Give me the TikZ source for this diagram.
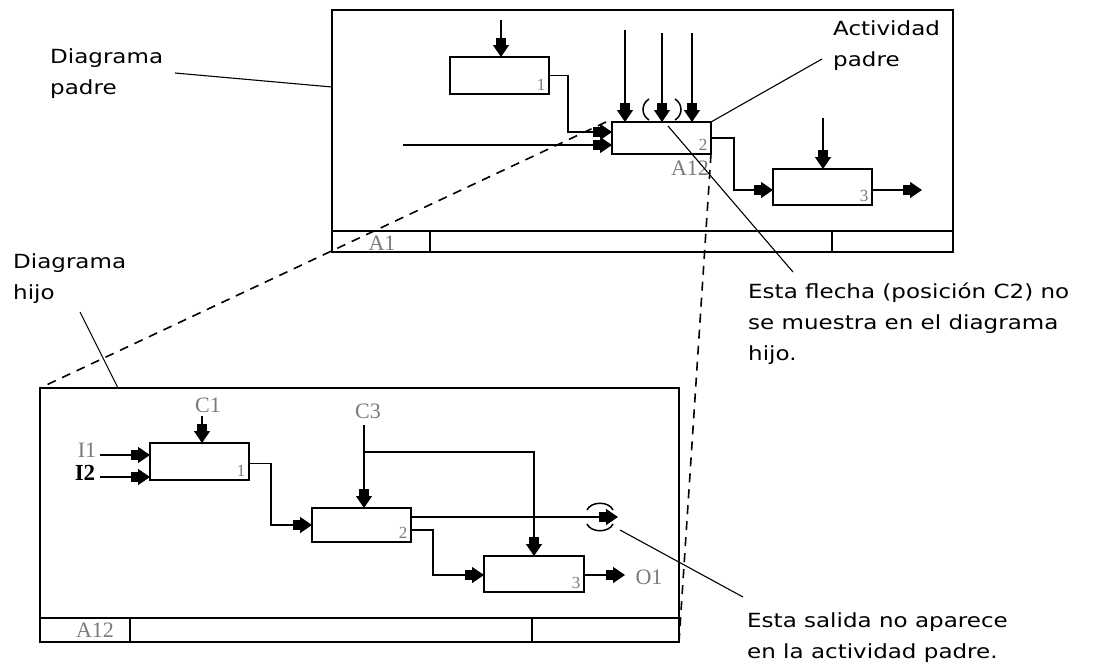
\documentclass[tikz,border=0pt]{standalone}
\usepackage{fontspec}
\usepackage{tikz}
\usetikzlibrary{arrows.meta,positioning,calc}
\newfontfamily\notefont[FakeStretch=1.18]{DejaVu Sans}
\newfontfamily\labfont{Liberation Serif}
\definecolor{lblgray}{HTML}{7A7A7A}
\tikzset{
  frm/.style={draw, rectangle, line width=1.8pt, inner sep=0pt, outer sep=0pt},
  act/.style={draw, rectangle, line width=1.5pt, fill=white, minimum width=99pt, inner sep=0pt, outer sep=0pt},
  num/.style={font=\labfont\fontsize{17}{17}\selectfont, text=lblgray, anchor=south east, inner sep=3.5pt},
  lab/.style={font=\labfont\fontsize{22}{22}\selectfont, text=lblgray, inner sep=0pt},
  note/.style={font=\notefont\fontsize{19.5}{31}\selectfont, align=left, anchor=west, inner sep=0pt},
  ln/.style={line width=1.5pt},
  arr/.style={-{Rectangle[length=7pt,width=10pt]Triangle[length=12pt,width=16pt]}, line width=1.5pt},
  dsh/.style={line width=1.6pt, dash pattern=on 9pt off 7pt},
  lead/.style={line width=1.1pt}
}
\begin{document}
\begin{tikzpicture}[x=1pt,y=-1pt]
\useasboundingbox (0,0) rectangle (1096,665);

% parent diagram
\node[frm, minimum width=621pt, minimum height=242pt] (pfrm) at (642.5,131) {};
\draw[ln] ($(pfrm.south west)+(0,-21)$) -- ($(pfrm.south east)+(0,-21)$);
\foreach \x in {430,832} \draw[ln] (\x,231) -- (\x,252);
\node[lab] (pa1) at (382,243) {A1};

\node[act, minimum height=37pt, label={[num]south east:1}] (pb1) at (499.5,75.5) {};
\node[act, minimum height=32pt, label={[num]south east:2}] (pb2) at (661.5,138) {};
\node[act, minimum height=36pt, label={[num]south east:3}] (pb3) at (822.5,187) {};
\node[lab] (pa12) at (690,168) {A12};

\coordinate (cp1) at (501,20);
\draw[arr] (cp1) -- (cp1 |- pb1.north);
\foreach \n/\x/\y in {a/625/30,b/662/33,c/692/33} {
  \coordinate (cp2\n) at (\x,\y);
  \draw[arr] (cp2\n) -- (cp2\n |- pb2.north);
}
\draw[ln] (649,99) .. controls (641,104) and (641,115) .. (649,120);
\draw[ln] (675,99) .. controls (683,104) and (683,115) .. (675,120);
\draw[arr] (pb1.east) -- ++(19,0) |- ($(pb2.west)+(0,-6)$);
\coordinate (ip2) at (403,145);
\draw[arr] (ip2) -- (ip2 -| pb2.west);
\draw[arr] (pb2.east) -- ++(23,0) |- ($(pb3.west)+(0,3)$);
\coordinate (cp3) at (823,118);
\draw[arr] (cp3) -- (cp3 |- pb3.north);
\coordinate (op3) at (922,190);
\draw[arr] (op3 -| pb3.east) -- (op3);

% child diagram
\node[frm, minimum width=639pt, minimum height=254pt] (cfrm) at (359.5,515) {};
\draw[ln] ($(cfrm.south west)+(0,-24)$) -- ($(cfrm.south east)+(0,-24)$);
\foreach \x in {130,532} \draw[ln] (\x,618) -- (\x,642);
\node[lab] (ca12) at (95,630) {A12};

\node[act, minimum height=37pt, label={[num]south east:1}] (cb1) at (199.5,461.5) {};
\node[act, minimum height=34pt, label={[num]south east:2}] (cb2) at (361.5,525) {};
\node[act, minimum width=100pt, minimum height=36pt, label={[num]south east:3}] (cb3) at (534,574) {};

\node[lab] (lc1) at (208,405) {C1};
\node[lab] (lc3) at (368,411) {C3};
\node[lab] (li1) at (87,450) {I1};
\node[lab, text=black, font=\labfont\bfseries\fontsize{23}{23}\selectfont] (li2) at (85,473) {I2};
\node[lab] (lo1) at (649,577) {O1};

\coordinate (cc1) at (202,416);
\draw[arr] (cc1) -- (cc1 |- cb1.north);
\foreach \n/\y in {1/455,2/477} {
  \coordinate (ci\n) at (100,\y);
  \draw[arr] (ci\n) -- (ci\n -| cb1.west);
}
\draw[arr] ($(cb1.east)+(0,2)$) -- ++(22,0) |- (cb2.west);
\coordinate (cc3) at (364,425);
\draw[arr] (cc3) -- (cc3 |- cb2.north);
\draw[arr] ($(cc3)+(0,27)$) -| (cb3.north);
\coordinate (co2) at (618,517);
\draw[arr] (co2 -| cb2.east) -- (co2);
\draw[ln] (587,510) .. controls (591,501) and (609,501) .. (613,510);
\draw[ln] (587,524) .. controls (591,533) and (609,533) .. (613,524);
\draw[arr] ($(cb2.east)+(0,5)$) -- ++(22,0) |- ($(cb3.west)+(0,1)$);
\coordinate (co3) at (625,575);
\draw[arr] (co3 -| cb3.east) -- (co3);

% links between the two levels
\draw[dsh] ($(pb2.north west)+(-6,0)$) -- (cfrm.north west);
\draw[dsh] (pb2.south east) -- (cfrm.south east);

% notes
\node[note] (npadre) at (50,74) {Diagrama\\padre};
\node[note] (nhijo) at (13,279) {Diagrama\\hijo};
\node[note] (nact) at (833,46) {Actividad\\padre};
\node[note] (nflecha) at (748,324) {Esta flecha (posición C2) no\\se muestra en el diagrama\\hijo.};
\node[note] (nsalida) at (747,638) {Esta salida no aparece\\en la actividad padre.};

\coordinate (kpadre) at (175,73);
\coordinate (kpfrm) at (332,87);
\coordinate (khijo) at (80,312);
\coordinate (kcfrm) at (118,388);
\coordinate (kact) at (822,59);
\coordinate (kc2) at (668,126);
\coordinate (kflecha) at (793,272);
\coordinate (ko2) at (620,530);
\coordinate (ksalida) at (743,597);
\draw[lead] (kpadre) -- (kpfrm);
\draw[lead] (khijo) -- (kcfrm);
\draw[lead] (pb2.north east) -- (kact);
\draw[lead] (kc2) -- (kflecha);
\draw[lead] (ko2) -- (ksalida);
\end{tikzpicture}
\end{document}
